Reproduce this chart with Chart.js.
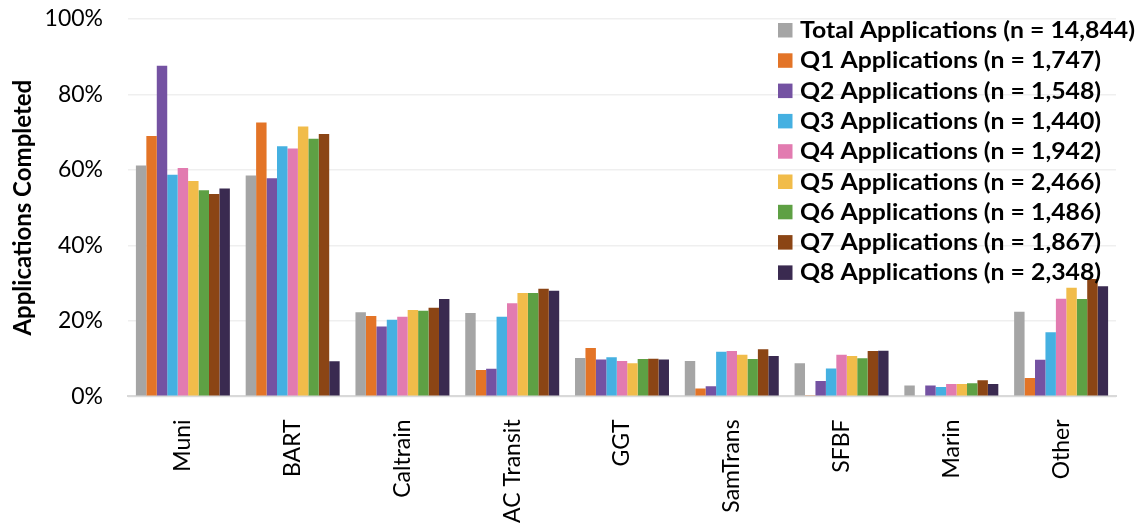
<!DOCTYPE html>
<html>
<head>
<meta charset="utf-8">
<script src="https://cdn.jsdelivr.net/npm/chart.js@4/dist/chart.umd.min.js"></script>
<style>
  html, body { margin: 0; padding: 0; background: #fff; }
  #wrap { width: 1143px; height: 527px; }
</style>
</head>
<body>
<div id="wrap"><canvas id="chart" width="1143" height="527"></canvas></div>
<script>
// Completion rate by operator, per application quarter (percent)
const operators = ['Muni', 'BART', 'Caltrain', 'AC Transit', 'GGT', 'SamTrans', 'SFBF', 'Marin', 'Other'];

const totalApps = [61.2, 58.5, 22.3, 22.1, 10.2, 9.4, 8.8, 2.9, 22.4];
const q1Apps    = [69.0, 72.6, 21.3, 7.0, 12.8, 2.1, 0.3, 0.0, 4.9];
const q2Apps    = [87.6, 57.8, 18.5, 7.3, 9.8, 2.7, 4.1, 2.9, 9.7];
const q3Apps    = [58.7, 66.3, 20.3, 21.1, 10.4, 11.8, 7.4, 2.5, 17.0];
const q4Apps    = [60.5, 65.7, 21.1, 24.7, 9.4, 12.0, 11.0, 3.3, 25.9];
const q5Apps    = [57.1, 71.5, 22.9, 27.4, 8.8, 11.0, 10.7, 3.3, 28.8];
const q6Apps    = [54.6, 68.3, 22.7, 27.4, 9.9, 9.9, 10.1, 3.5, 25.8];
const q7Apps    = [53.6, 69.5, 23.5, 28.5, 10.0, 12.5, 12.0, 4.3, 31.1];
const q8Apps    = [55.1, 9.3, 25.8, 28.0, 9.8, 10.7, 12.1, 3.3, 29.2];

const seriesLabels = [
  'Total Applications (n = 14,844)',
  'Q1 Applications (n = 1,747)',
  'Q2 Applications (n = 1,548)',
  'Q3 Applications (n = 1,440)',
  'Q4 Applications (n = 1,942)',
  'Q5 Applications (n = 2,466)',
  'Q6 Applications (n = 1,486)',
  'Q7 Applications (n = 1,867)',
  'Q8 Applications (n = 2,348)'
];
const seriesValues = [totalApps, q1Apps, q2Apps, q3Apps, q4Apps, q5Apps, q6Apps, q7Apps, q8Apps];
const seriesColors = ['#A5A5A5', '#E37427', '#7452A2', '#45B0E1', '#E27BB0', '#F1BC4A', '#5EA044', '#8B4515', '#3A2A50'];

const yTicks = [0, 20, 40, 60, 80, 100];

const FONT = 'Lato, Calibri, Carlito, sans-serif';

// legend drawn over the plot area, top right (like the original);
// the original text is wide, so stretch it a little horizontally
const overlayLegend = {
  id: 'overlayLegend',
  afterDraw(chart) {
    const ctx = chart.ctx;
    const x0 = 778, textX = 800, targetW = 335;
    ctx.save();
    ctx.font = 'bold 22px ' + FONT;
    ctx.textBaseline = 'middle';
    ctx.textAlign = 'left';
    const widest = Math.max(...chart.data.datasets.map(ds => ctx.measureText(ds.label).width));
    const sx = targetW / widest;
    chart.data.datasets.forEach((ds, i) => {
      const y = 30 + i * 30.3;
      ctx.fillStyle = ds.backgroundColor;
      ctx.fillRect(x0, y - 7, 14.5, 14.5);
      ctx.save();
      ctx.translate(textX, y + 1);
      ctx.scale(sx, 1);
      ctx.fillStyle = '#000';
      ctx.fillText(ds.label, 0, 0);
      ctx.restore();
    });
    ctx.restore();
  }
};

new Chart(document.getElementById('chart'), {
  type: 'bar',
  data: {
    labels: operators,
    datasets: seriesLabels.map((label, i) => ({
      label: label,
      data: seriesValues[i],
      backgroundColor: seriesColors[i],
      borderWidth: 0,
      categoryPercentage: 0.856,
      barPercentage: 1.0
    }))
  },
  options: {
    responsive: false,
    animation: false,
    layout: { padding: { left: 9, right: 27, top: 19, bottom: -11 } },
    plugins: {
      legend: { display: false },
      tooltip: { enabled: false }
    },
    scales: {
      x: {
        grid: { display: false },
        border: { display: true, color: '#D9D9D9', width: 2 },
        ticks: {
          color: '#000',
          font: { family: FONT, size: 23 },
          minRotation: 90,
          maxRotation: 90,
          padding: 15
        }
      },
      y: {
        min: 0,
        max: 100,
        afterBuildTicks: (axis) => { axis.ticks = yTicks.map(v => ({ value: v })); },
        afterFit: (axis) => { axis.width = 119; },
        grid: { color: '#EFEFEF', lineWidth: 1.5, drawTicks: true, tickLength: 22, tickColor: 'rgba(0,0,0,0)' },
        border: { display: false },
        ticks: {
          color: '#000',
          font: { family: FONT, size: 23 },
          padding: 3,
          callback: (v) => v + '%'
        },
        title: {
          display: true,
          text: 'Applications Completed',
          color: '#000',
          font: { family: FONT, size: 24, weight: 'bold' },
          padding: { top: 0, bottom: 0 }
        }
      }
    }
  },
  plugins: [overlayLegend]
});
</script>
</body>
</html>
